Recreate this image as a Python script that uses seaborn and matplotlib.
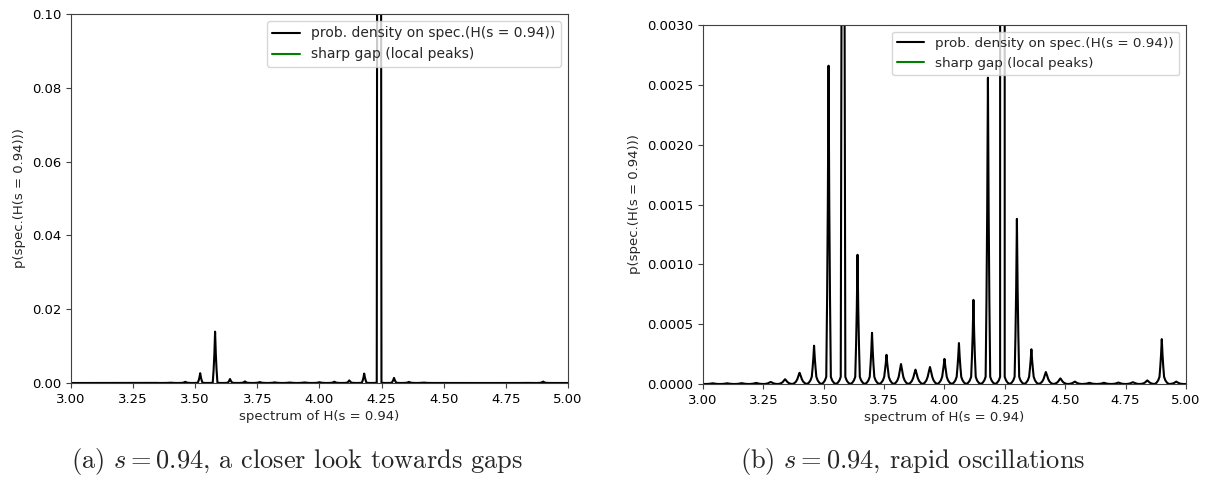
import numpy as np
import pandas as pd
import matplotlib
matplotlib.use("Agg")
import matplotlib.pyplot as plt
import seaborn as sns

# Local peaks of the spectral probability density of H(s = 0.94)
peak_energy = [3.04, 3.10, 3.16, 3.22, 3.28, 3.34, 3.40, 3.46, 3.52, 3.58,
               3.64, 3.70, 3.76, 3.82, 3.88, 3.94, 4.00, 4.06, 4.12, 4.18,
               4.24, 4.30, 4.36, 4.42, 4.48, 4.54, 4.60, 4.66, 4.72, 4.78,
               4.84, 4.90, 4.96]
peak_density = [0.000006, 0.000006, 0.000007, 0.000009, 0.000017, 0.00004,
                0.000094, 0.00032, 0.00266, 0.0139, 0.00108, 0.000428,
                0.000244, 0.000167, 0.00012, 0.000142, 0.00021, 0.000342,
                0.000703, 0.00256, 1.0, 0.00138, 0.00029, 0.0001,
                0.000047, 0.00002, 0.00001, 0.00001, 0.000012, 0.000015,
                0.00003, 0.000375, 0.00002]
energy_window = (3.0, 5.0)

left_ylim = (0.0, 0.10)
right_ylim = (0.0, 0.003)
left_yticks = [0.00, 0.02, 0.04, 0.06, 0.08, 0.10]
right_yticks = [0.0, 0.0005, 0.0010, 0.0015, 0.0020, 0.0025, 0.0030]
xticks = [3.00, 3.25, 3.50, 3.75, 4.00, 4.25, 4.50, 4.75, 5.00]

label_main = "prob. density on spec.(H(s = 0.94))"
label_gap = "sharp gap (local peaks)"
xlabel = "spectrum of H(s = 0.94)"
ylabel = "p(spec.(H(s = 0.94)))"
captions = [r"(a) $s = 0.94$, a closer look towards gaps",
            r"(b) $s = 0.94$, rapid oscillations"]

# Peak line shape: a sharp spike on top of a low, broader skirt
offsets = [0.0, 0.003, 0.006, 0.0095, 0.015, 0.022, 0.03]
spike_shape = [1.0, 0.55, 0.25, 0.0, 0.0, 0.0, 0.0]
skirt_shape = [1.0, 0.95, 0.82, 0.6, 0.3, 0.1, 0.0]


def density_curve(centers, heights, window):
    xs, ys = [window[0]], [0.0]
    for c, h in zip(centers, heights):
        skirt = min(0.7 * h, 1e-4)
        spike = h - skirt
        vals = [spike * a + skirt * b for a, b in zip(spike_shape, skirt_shape)]
        for d, v in zip(offsets[::-1], vals[::-1]):
            xs.append(c - d)
            ys.append(v)
        for d, v in zip(offsets[1:], vals[1:]):
            xs.append(c + d)
            ys.append(v)
    xs.append(window[1])
    ys.append(0.0)
    return pd.DataFrame({"energy": xs, "density": ys})


curve = density_curve(peak_energy, peak_density, energy_window)

sns.set_style("ticks")
plt.rcParams["mathtext.fontset"] = "cm"
plt.rcParams["axes.edgecolor"] = "0.25"
plt.rcParams["xtick.color"] = "0.25"
plt.rcParams["ytick.color"] = "0.25"
plt.rcParams["xtick.labelcolor"] = "black"
plt.rcParams["ytick.labelcolor"] = "black"

fs = 9.5
fig = plt.figure(figsize=(12.11, 4.84), dpi=100)
ax1 = fig.add_axes([0.0586, 0.2087, 0.4104, 0.7624])
ax2 = fig.add_axes([0.5805, 0.2066, 0.3988, 0.7417])

for ax, ylim, yticks, fmt, lfs in [(ax1, left_ylim, left_yticks, "{:.2f}", 10.0),
                                    (ax2, right_ylim, right_yticks, "{:.4f}", 9.7)]:
    sns.lineplot(data=curve, x="energy", y="density", ax=ax, color="black",
                 linewidth=1.5, estimator=None, sort=False, label=label_main)
    ax.plot([], [], color="green", linewidth=1.5, label=label_gap)
    ax.set_xlim(*energy_window)
    ax.set_ylim(*ylim)
    ax.set_xticks(xticks)
    ax.set_xticklabels([f"{t:.2f}" for t in xticks], fontsize=fs)
    ax.set_yticks(yticks)
    ax.set_yticklabels([fmt.format(t) for t in yticks], fontsize=fs)
    ax.set_xlabel(xlabel, fontsize=fs, labelpad=3)
    ax.set_ylabel(ylabel, fontsize=fs, labelpad=4)
    ax.tick_params(length=3.5, width=0.8)
    for sp in ax.spines.values():
        sp.set_linewidth(0.8)
        sp.set_visible(True)
    ax.legend(loc="upper right", fontsize=lfs, framealpha=0.8,
              handlelength=2.0, borderpad=0.4, labelspacing=0.5)

fig.text(0.245, 0.047, captions[0], ha="center", va="center",
         fontsize=19, family="cmr10")
fig.text(0.754, 0.047, captions[1], ha="center", va="center",
         fontsize=19, family="cmr10")

fig.savefig("out.png", dpi=100)
